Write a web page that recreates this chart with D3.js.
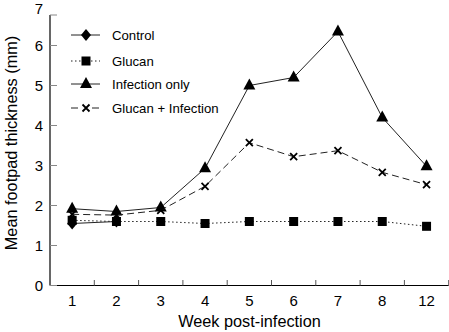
<!DOCTYPE html>
<html><head><meta charset="utf-8">
<script src="https://cdn.jsdelivr.net/npm/d3@7"></script>
<style>body{margin:0;background:#fff}svg{display:block;font-family:Arial,"Liberation Sans",Helvetica,sans-serif}</style>
</head><body>
<script>
const weeks = ["1","2","3","4","5","6","7","8","12"];
// Control is only visible at weeks 1-2 (hidden under Glucan thereafter)
const control = [1.55,1.6,null,null,null,null,null,null,null];
const glucan = [1.63,1.6,1.6,1.55,1.6,1.6,1.6,1.6,1.48];
const infectionOnly = [1.92,1.85,1.95,2.93,5.0,5.2,6.35,4.2,2.98];
const glucanInfection = [1.78,1.76,1.88,2.48,3.57,3.22,3.37,2.83,2.52];
const yTicks = [0,1,2,3,4,5,6,7];
const legendLabels = ["Control","Glucan","Infection only","Glucan + Infection"];

const W=449,H=332;
const svg=d3.select("body").append("svg").attr("width",W).attr("height",H);
const x=d3.scaleBand().domain(weeks).range([50,448.7]);
const y=d3.scaleLinear().domain([0,7]).range([285.5,5.5]);
const cx=d=>x(d)+x.bandwidth()/2;

// axes
svg.append("line").attr("x1",50).attr("x2",50).attr("y1",y(0)).attr("y2",15).attr("stroke","#000").attr("stroke-width",1.2);
svg.append("line").attr("x1",50).attr("x2",448.7).attr("y1",y(0)).attr("y2",y(0)).attr("stroke","#000").attr("stroke-width",1.2);
yTicks.forEach(t=>{
  const py = t===7?15:y(t);
  svg.append("line").attr("x1",50).attr("x2",57).attr("y1",py).attr("y2",py).attr("stroke","#888").attr("stroke-width",1);
  svg.append("text").attr("x",43).attr("y",t===7?Math.max(y(t),9):y(t)).attr("dy","0.36em").attr("text-anchor","end").attr("font-size",15).text(t);
});
const bounds = weeks.map(w=>x(w)+x.bandwidth());
bounds.forEach(b=>{
  svg.append("line").attr("x1",b).attr("x2",b).attr("y1",y(0)).attr("y2",y(0)-5.5).attr("stroke","#555").attr("stroke-width",1);
});
weeks.forEach(w=>{
  svg.append("text").attr("x",cx(w)).attr("y",301).attr("dy","0.36em").attr("text-anchor","middle").attr("font-size",15).text(w);
});
svg.append("text").attr("x",249.5).attr("y",327).attr("text-anchor","middle").attr("font-size",16.3).text("Week post-infection");
svg.append("text").attr("transform","translate(17,143) rotate(-90)").attr("text-anchor","middle").attr("font-size",16.3).text("Mean footpad thickness (mm)");

const series=[
 {vals:control,dash:null,mk:"diamond"},
 {vals:glucan,dash:"1.5,2.5",mk:"square"},
 {vals:infectionOnly,dash:null,mk:"triangle"},
 {vals:glucanInfection,dash:"7,4",mk:"cross"}
];
const line=d3.line().defined(d=>d!=null).x((d,i)=>cx(weeks[i])).y(d=>y(d));
function marker(g,type,px,py){
  if(type==="diamond") g.append("path").attr("d",`M${px},${py-6}L${px+5},${py}L${px},${py+6}L${px-5},${py}Z`).attr("fill","#000");
  else if(type==="square") g.append("rect").attr("x",px-4.5).attr("y",py-4.5).attr("width",9).attr("height",9).attr("fill","#000");
  else if(type==="triangle") g.append("path").attr("d",`M${px},${py-7}L${px+6},${py+4}L${px-6},${py+4}Z`).attr("fill","#000");
  else if(type==="cross") g.append("path").attr("d",`M${px-3.5},${py-3.5}L${px+3.5},${py+3.5}M${px+3.5},${py-3.5}L${px-3.5},${py+3.5}`).attr("stroke","#000").attr("stroke-width",1.8);
}
series.forEach(s=>{
  const g=svg.append("g");
  g.append("path").attr("d",line(s.vals)).attr("fill","none").attr("stroke","#222").attr("stroke-width",1).attr("stroke-dasharray",s.dash);
  s.vals.forEach((v,i)=>{ if(v!=null) marker(g,s.mk,cx(weeks[i]),y(v)); });
});

// legend
const legY=[35,61,84,108];
series.forEach((s,i)=>{
  const g=svg.append("g");
  g.append("line").attr("x1",71).attr("x2",100).attr("y1",legY[i]).attr("y2",legY[i]).attr("stroke","#222").attr("stroke-width",1).attr("stroke-dasharray",s.mk==="cross"?"7,14":s.dash);
  marker(g,s.mk,86,legY[i]);
  g.append("text").attr("x",112).attr("y",legY[i]).attr("dy","0.36em").attr("font-size",13.2).text(legendLabels[i]);
});
</script>
</body></html>
